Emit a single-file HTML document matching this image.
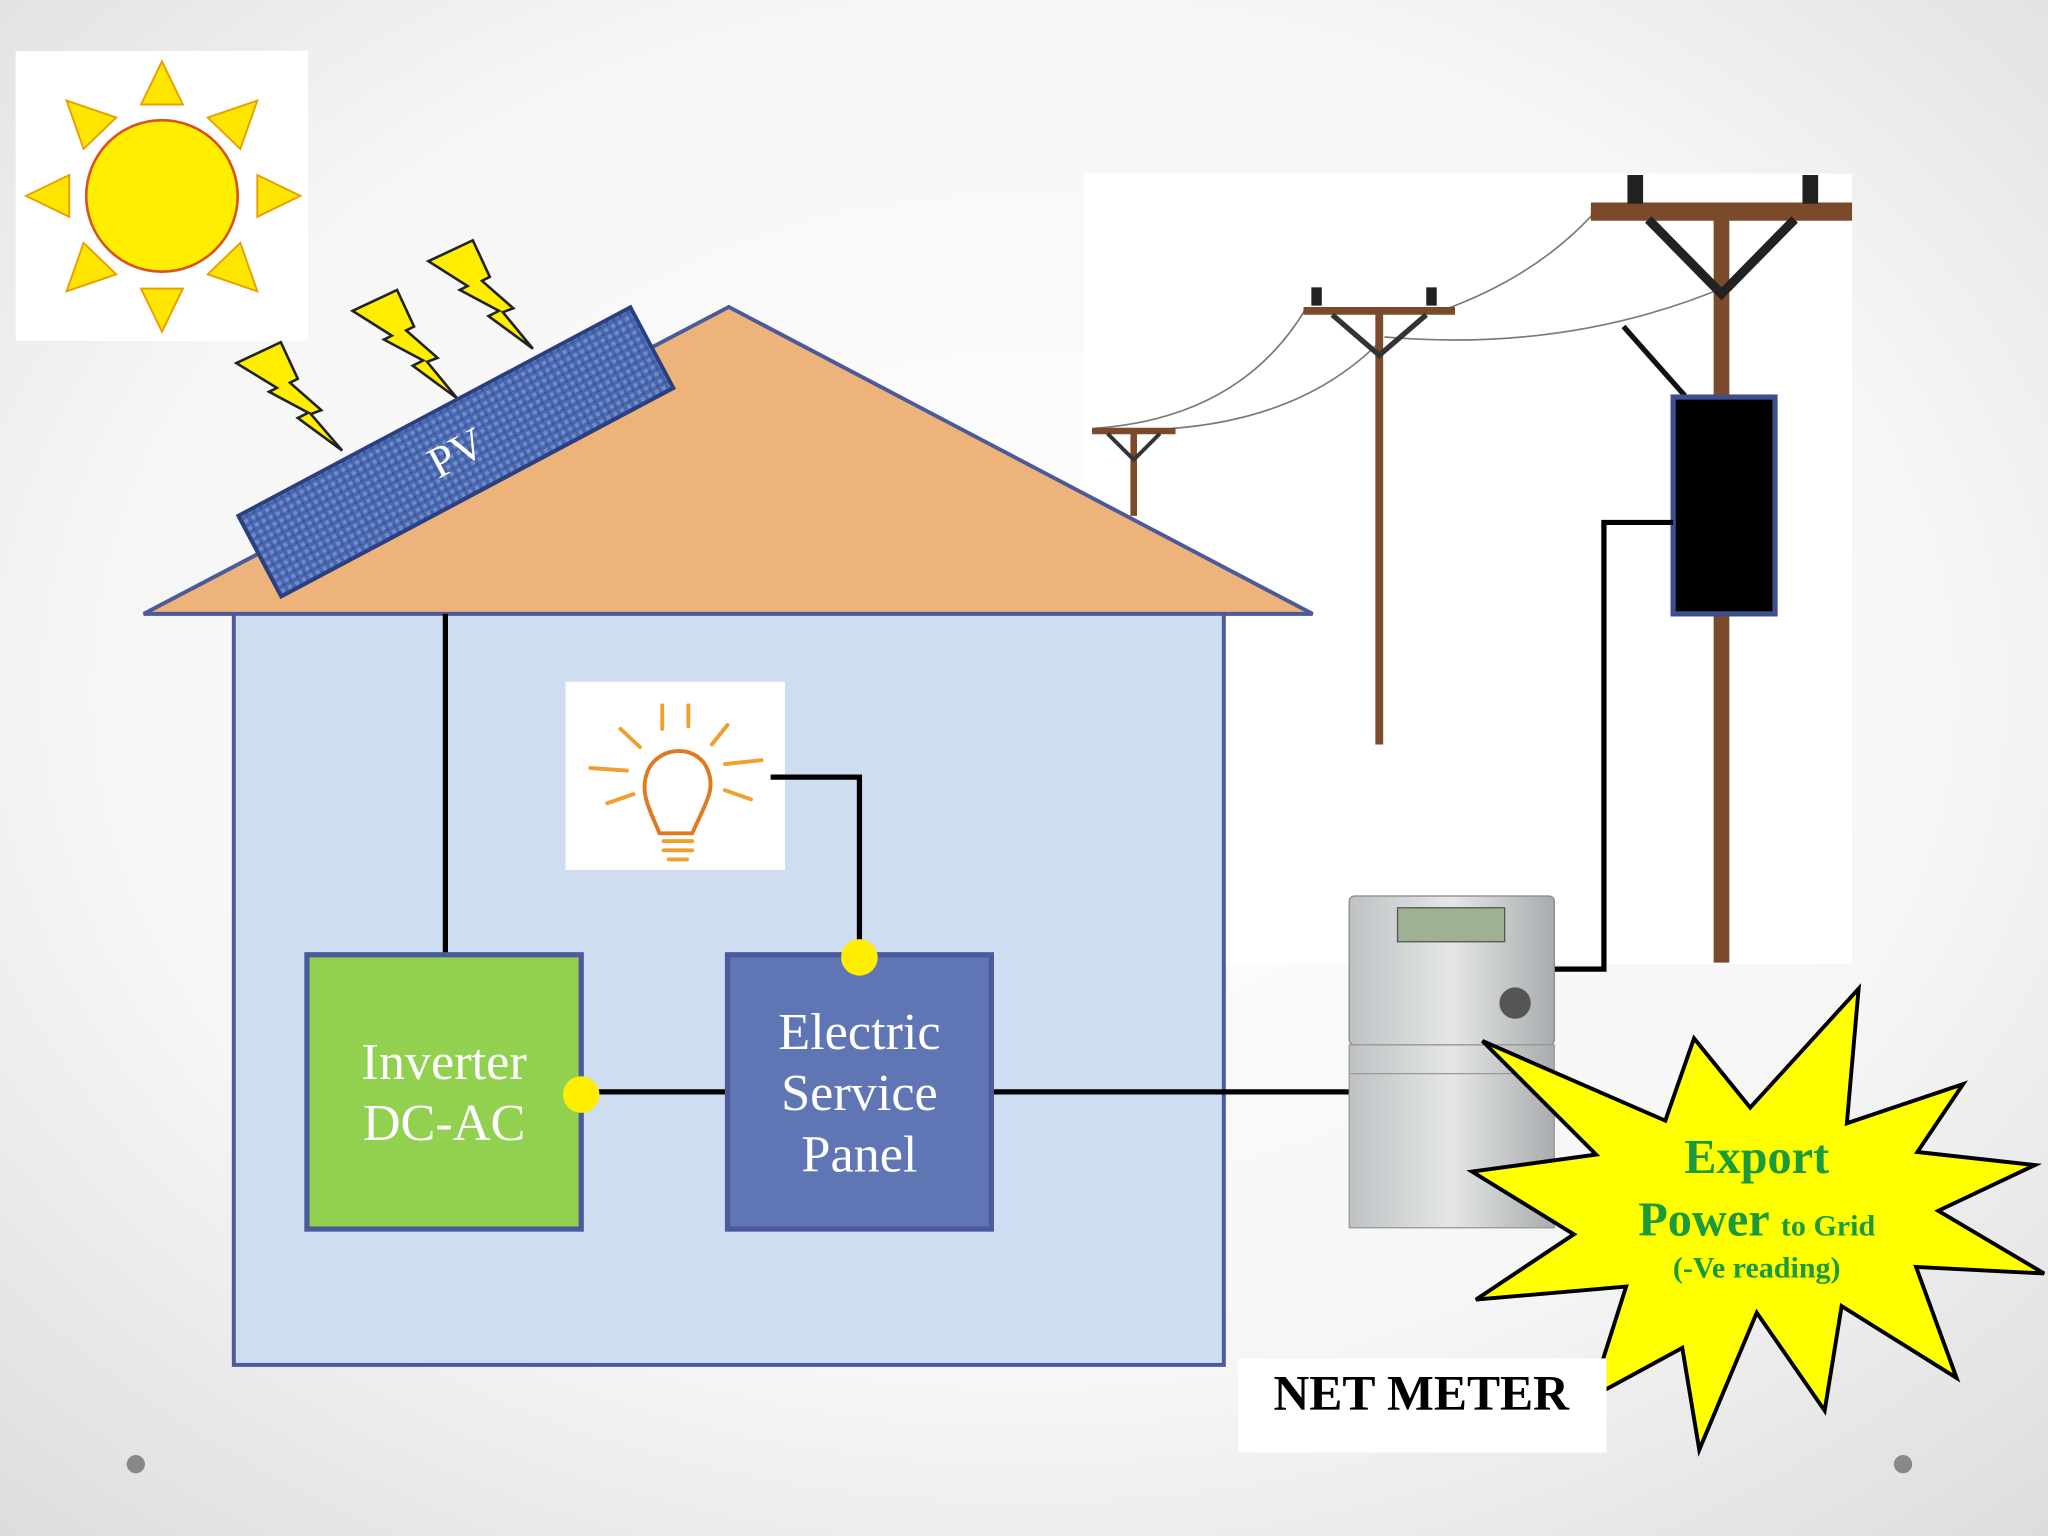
<!DOCTYPE html>
<html><head><meta charset="utf-8"><style>
html,body{margin:0;padding:0;width:2048px;height:1536px;overflow:hidden}
svg{display:block}
</style></head><body>
<svg width="2048" height="1536" viewBox="0 0 1568 1176" xmlns="http://www.w3.org/2000/svg">
<defs>
<radialGradient id="bg" cx="50%" cy="45%" r="75%">
<stop offset="0" stop-color="#ffffff"/><stop offset="0.6" stop-color="#f6f6f6"/><stop offset="1" stop-color="#dcdcdc"/>
</radialGradient>
<pattern id="tex" width="6" height="6" patternUnits="userSpaceOnUse">
<rect width="6" height="6" fill="#4a68b0"/><rect width="3" height="3" fill="#6f8cc8"/><rect x="3" y="3" width="2" height="2" fill="#3a559a"/>
</pattern>
<linearGradient id="mt" x1="0" y1="0" x2="1" y2="0"><stop offset="0" stop-color="#bfc2c4"/><stop offset="0.5" stop-color="#e4e6e7"/><stop offset="1" stop-color="#a9acae"/></linearGradient>
</defs>
<rect width="1568" height="1176" fill="url(#bg)"/>
<rect x="12" y="39" width="224" height="222" fill="#fff"/>
<g fill="#ffe600" stroke="#e8a000" stroke-width="1.5">
<polygon points="124,47 108,80 140,80"/><polygon points="124,254 108,221 140,221"/>
<polygon points="20,150 53,134 53,166"/><polygon points="230,150 197,134 197,166"/>
<polygon points="51,77 89,90 64,114"/><polygon points="197,77 159,90 184,114"/>
<polygon points="51,223 89,210 64,186"/><polygon points="197,223 159,210 184,186"/>
</g>
<circle cx="124" cy="150" r="58" fill="#ffee00" stroke="#d9531e" stroke-width="2"/>
<g fill="#ffee00" stroke="#222" stroke-width="2">
<polygon points="181,278 215,262 228,290 222,293 246,314 238,317 262,345 228,320 236,316 206,300 212,297"/>
<polygon points="270,238 304,222 317,250 311,253 335,274 327,277 350,305 316,280 324,276 294,260 300,257"/>
<polygon points="328,200 362,184 375,212 369,215 393,236 385,239 408,267 374,242 382,238 352,222 358,219"/>
</g>
<rect x="830" y="133" width="588" height="605" fill="#fff"/>
<g fill="none" stroke="#7b7b7b" stroke-width="1.3">
<path d="M838,328 Q950,320 1000,236"/><path d="M898,328 Q1000,320 1058,260"/>
<path d="M1106,237 Q1180,210 1225,158"/><path d="M1060,258 Q1200,270 1320,220"/>
</g>
<g stroke="#7a4a2a" fill="none">
<line x1="868" y1="330" x2="868" y2="395" stroke-width="5"/>
<line x1="836" y1="330" x2="900" y2="330" stroke-width="5"/>
<path d="M848,332 L868,352 L888,332" stroke="#333" stroke-width="3"/>
<line x1="1056" y1="238" x2="1056" y2="570" stroke-width="6"/>
<line x1="998" y1="238" x2="1114" y2="238" stroke-width="6"/>
<path d="M1020,241 L1056,272 L1092,241" stroke="#333" stroke-width="4"/>
<line x1="1318" y1="160" x2="1318" y2="737" stroke-width="12"/>
<line x1="1218" y1="162" x2="1418" y2="162" stroke-width="14"/>
<path d="M1262,168 L1318,225 L1374,168" stroke="#222" stroke-width="7"/>
</g>
<g fill="#222"><rect x="1246" y="134" width="12" height="22"/><rect x="1380" y="134" width="12" height="22"/><rect x="1004" y="220" width="8" height="14"/><rect x="1092" y="220" width="8" height="14"/></g>
<line x1="1243" y1="250" x2="1290" y2="303" stroke="#111" stroke-width="4"/>
<rect x="1281" y="304" width="78" height="166" fill="#000" stroke="#3d4f8c" stroke-width="4"/>
<polyline points="1163,742 1228,742 1228,400 1281,400" fill="none" stroke="#000" stroke-width="4"/>
<polygon points="110,470 558,235 1005,470" fill="#eeb27b" stroke="#4a5a9a" stroke-width="3"/>
<g transform="translate(349,346) rotate(-28)">
<rect x="-170" y="-35" width="340" height="70" fill="url(#tex)" stroke="#2b3f80" stroke-width="3"/>
<text x="0" y="12" text-anchor="middle" font-family="Liberation Serif,serif" font-size="34" fill="#fff">PV</text>
</g>
<rect x="179" y="470" width="758" height="575" fill="#cfddf2" stroke="#4a5a9a" stroke-width="3"/>
<rect x="433" y="522" width="168" height="144" fill="#fff"/>
<g stroke="#f0a030" stroke-width="3" fill="none" stroke-linecap="round">
<path d="M505,638 C495,615 490,605 496,590 C505,570 535,570 542,590 C548,605 540,615 530,638 Z" stroke="#e07a20"/>
<line x1="508" y1="644" x2="530" y2="644"/><line x1="508" y1="651" x2="530" y2="651"/><line x1="512" y1="658" x2="526" y2="658"/>
<line x1="507" y1="540" x2="507" y2="558"/><line x1="527" y1="540" x2="527" y2="556"/>
<line x1="475" y1="558" x2="490" y2="572"/><line x1="557" y1="555" x2="545" y2="570"/>
<line x1="452" y1="588" x2="480" y2="590"/><line x1="555" y1="585" x2="583" y2="582"/>
<line x1="465" y1="615" x2="485" y2="608"/><line x1="555" y1="605" x2="575" y2="612"/>
</g>
<g stroke="#000" stroke-width="4" fill="none">
<line x1="341" y1="470" x2="341" y2="731"/>
<polyline points="590,595 658,595 658,733"/>
<line x1="445" y1="836" x2="557" y2="836"/>
<line x1="760" y1="836" x2="1035" y2="836"/>
</g>
<rect x="235" y="731" width="210" height="210" fill="#92d050" stroke="#4a5a9a" stroke-width="4"/>
<rect x="557" y="731" width="202" height="210" fill="#6075b4" stroke="#4a5a9a" stroke-width="4"/>
<g font-family="Liberation Serif,serif" font-size="40" fill="#fff" text-anchor="middle">
<text x="340" y="826">Inverter</text><text x="340" y="873">DC-AC</text>
<text x="658" y="803">Electric</text><text x="658" y="850">Service</text><text x="658" y="897">Panel</text>
</g>
<circle cx="445" cy="838" r="14" fill="#ffee00"/>
<circle cx="658" cy="733" r="14" fill="#ffee00"/>
<rect x="1033" y="686" width="157" height="114" rx="4" fill="url(#mt)" stroke="#888"/>
<rect x="1070" y="695" width="82" height="26" fill="#9fb093" stroke="#555"/>
<circle cx="1160" cy="768" r="12" fill="#555"/>
<rect x="1033" y="800" width="157" height="140" fill="url(#mt)" stroke="#999"/>
<line x1="1033" y1="822" x2="1190" y2="822" stroke="#999"/>
<polygon points="1423,757 1414,860 1503,830 1468,882 1558,892 1484,927 1565,975 1467,970 1498,1055 1410,1000 1397,1080 1345,1005 1301,1110 1288,1032 1218,1070 1245,985 1130,995 1205,945 1127,897 1222,884 1135,797 1275,858 1297,795 1340,848" fill="#ffff00" stroke="#000" stroke-width="3"/>
<g font-family="Liberation Serif,serif" fill="#1a9a3a" text-anchor="middle" font-weight="bold">
<text x="1345" y="898" font-size="37">Export</text>
<text x="1345" y="946" font-size="37">Power <tspan font-size="23">to Grid</tspan></text>
<text x="1345" y="978" font-size="23">(-Ve reading)</text>
</g>
<rect x="948" y="1040" width="282" height="72" fill="#fff"/>
<text x="975" y="1079" font-family="Liberation Serif,serif" font-weight="bold" font-size="38" fill="#000">NET METER</text>
<circle cx="104" cy="1121" r="7" fill="#888"/>
<circle cx="1457" cy="1121" r="7" fill="#888"/>
</svg>
</body></html>
